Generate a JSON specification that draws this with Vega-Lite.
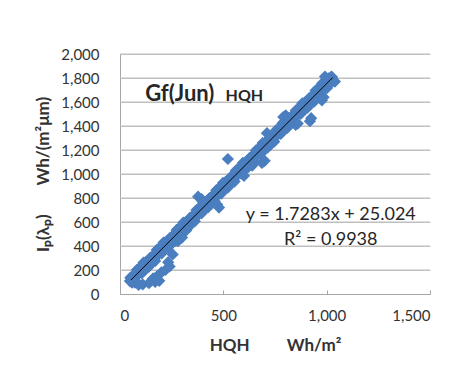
{
  "$schema": "https://vega.github.io/schema/vega-lite/v6.json",
  "autosize": {"type": "none"},
  "width": 310,
  "height": 240,
  "padding": {"left": 120, "top": 54, "right": 37, "bottom": 84},
  "background": "white",
  "config": {
    "font": "Lato",
    "view": {"stroke": null},
    "axis": {"labelFont": "Lato", "titleFont": "Lato", "labelColor": "#333333", "titleColor": "#333333", "domainColor": "#a6a6a6", "tickColor": "#a6a6a6", "gridColor": "#bfbfbf", "labelOverlap": false}
  },
  "datasets": {
    "pts": [
      {"x": 50, "y": 136}, {"x": 58, "y": 95}, {"x": 66, "y": 149}, {"x": 74, "y": 108}, {"x": 82, "y": 202}, {"x": 90, "y": 166},
      {"x": 98, "y": 199}, {"x": 106, "y": 173}, {"x": 114, "y": 262}, {"x": 122, "y": 216}, {"x": 130, "y": 265}, {"x": 138, "y": 224},
      {"x": 146, "y": 302}, {"x": 154, "y": 261}, {"x": 162, "y": 315}, {"x": 170, "y": 274}, {"x": 178, "y": 368}, {"x": 186, "y": 331},
      {"x": 194, "y": 365}, {"x": 202, "y": 339}, {"x": 210, "y": 428}, {"x": 218, "y": 382}, {"x": 226, "y": 431}, {"x": 234, "y": 389},
      {"x": 242, "y": 468}, {"x": 250, "y": 427}, {"x": 258, "y": 481}, {"x": 266, "y": 440}, {"x": 274, "y": 534}, {"x": 282, "y": 497},
      {"x": 290, "y": 531}, {"x": 298, "y": 505}, {"x": 306, "y": 594}, {"x": 314, "y": 548}, {"x": 322, "y": 597}, {"x": 330, "y": 555},
      {"x": 338, "y": 634}, {"x": 346, "y": 593}, {"x": 354, "y": 647}, {"x": 362, "y": 606}, {"x": 370, "y": 699}, {"x": 378, "y": 663},
      {"x": 386, "y": 697}, {"x": 394, "y": 671}, {"x": 402, "y": 760}, {"x": 410, "y": 714}, {"x": 418, "y": 762}, {"x": 426, "y": 721},
      {"x": 434, "y": 800}, {"x": 442, "y": 759}, {"x": 450, "y": 813}, {"x": 458, "y": 772}, {"x": 466, "y": 865}, {"x": 474, "y": 829},
      {"x": 482, "y": 863}, {"x": 490, "y": 837}, {"x": 498, "y": 926}, {"x": 506, "y": 880}, {"x": 514, "y": 928}, {"x": 522, "y": 887},
      {"x": 530, "y": 966}, {"x": 538, "y": 925}, {"x": 546, "y": 979}, {"x": 554, "y": 937}, {"x": 562, "y": 1031}, {"x": 570, "y": 995},
      {"x": 578, "y": 1029}, {"x": 586, "y": 1003}, {"x": 594, "y": 1092}, {"x": 602, "y": 1045}, {"x": 610, "y": 1094}, {"x": 618, "y": 1053},
      {"x": 626, "y": 1132}, {"x": 634, "y": 1091}, {"x": 642, "y": 1145}, {"x": 650, "y": 1103}, {"x": 658, "y": 1197}, {"x": 666, "y": 1161},
      {"x": 674, "y": 1195}, {"x": 682, "y": 1169}, {"x": 690, "y": 1258}, {"x": 698, "y": 1211}, {"x": 706, "y": 1260}, {"x": 714, "y": 1219},
      {"x": 722, "y": 1298}, {"x": 730, "y": 1257}, {"x": 738, "y": 1310}, {"x": 746, "y": 1269}, {"x": 754, "y": 1363}, {"x": 762, "y": 1327},
      {"x": 770, "y": 1361}, {"x": 778, "y": 1335}, {"x": 786, "y": 1423}, {"x": 794, "y": 1377}, {"x": 802, "y": 1426}, {"x": 810, "y": 1385},
      {"x": 818, "y": 1464}, {"x": 826, "y": 1423}, {"x": 834, "y": 1476}, {"x": 842, "y": 1435}, {"x": 850, "y": 1529}, {"x": 858, "y": 1493},
      {"x": 866, "y": 1527}, {"x": 874, "y": 1501}, {"x": 882, "y": 1589}, {"x": 890, "y": 1543}, {"x": 898, "y": 1592}, {"x": 906, "y": 1551},
      {"x": 914, "y": 1630}, {"x": 922, "y": 1588}, {"x": 930, "y": 1642}, {"x": 938, "y": 1601}, {"x": 946, "y": 1695}, {"x": 954, "y": 1659},
      {"x": 962, "y": 1693}, {"x": 970, "y": 1666}, {"x": 978, "y": 1755}, {"x": 986, "y": 1709}, {"x": 994, "y": 1758}, {"x": 1002, "y": 1717},
      {"x": 1010, "y": 1796}, {"x": 1018, "y": 1754}, {"x": 1026, "y": 1808},
      {"x": 54, "y": 108}, {"x": 62, "y": 152}, {"x": 70, "y": 121}, {"x": 78, "y": 175}, {"x": 86, "y": 169}, {"x": 94, "y": 218},
      {"x": 102, "y": 181}, {"x": 110, "y": 225}, {"x": 118, "y": 199}, {"x": 126, "y": 268}, {"x": 134, "y": 242}, {"x": 142, "y": 276},
      {"x": 150, "y": 274}, {"x": 158, "y": 318}, {"x": 166, "y": 287}, {"x": 174, "y": 341}, {"x": 182, "y": 335}, {"x": 190, "y": 383},
      {"x": 198, "y": 347}, {"x": 206, "y": 391}, {"x": 214, "y": 365}, {"x": 222, "y": 434}, {"x": 230, "y": 408}, {"x": 238, "y": 441},
      {"x": 246, "y": 440}, {"x": 254, "y": 484}, {"x": 262, "y": 453}, {"x": 270, "y": 507}, {"x": 278, "y": 501}, {"x": 286, "y": 549},
      {"x": 294, "y": 513}, {"x": 302, "y": 557}, {"x": 310, "y": 531}, {"x": 318, "y": 600}, {"x": 326, "y": 574}, {"x": 334, "y": 607},
      {"x": 342, "y": 606}, {"x": 350, "y": 650}, {"x": 358, "y": 619}, {"x": 366, "y": 673}, {"x": 374, "y": 666}, {"x": 382, "y": 715},
      {"x": 390, "y": 679}, {"x": 398, "y": 723}, {"x": 406, "y": 697}, {"x": 414, "y": 766}, {"x": 422, "y": 739}, {"x": 430, "y": 773},
      {"x": 438, "y": 772}, {"x": 446, "y": 816}, {"x": 454, "y": 785}, {"x": 462, "y": 839}, {"x": 470, "y": 832}, {"x": 478, "y": 881},
      {"x": 486, "y": 845}, {"x": 494, "y": 889}, {"x": 502, "y": 863}, {"x": 510, "y": 932}, {"x": 518, "y": 905}, {"x": 526, "y": 939},
      {"x": 534, "y": 938}, {"x": 542, "y": 982}, {"x": 550, "y": 951}, {"x": 558, "y": 1004}, {"x": 566, "y": 998}, {"x": 574, "y": 1047},
      {"x": 582, "y": 1011}, {"x": 590, "y": 1055}, {"x": 598, "y": 1029}, {"x": 606, "y": 1097}, {"x": 614, "y": 1071}, {"x": 622, "y": 1105},
      {"x": 630, "y": 1104}, {"x": 638, "y": 1148}, {"x": 646, "y": 1117}, {"x": 654, "y": 1170}, {"x": 662, "y": 1164}, {"x": 670, "y": 1213},
      {"x": 678, "y": 1177}, {"x": 686, "y": 1221}, {"x": 694, "y": 1195}, {"x": 702, "y": 1263}, {"x": 710, "y": 1237}, {"x": 718, "y": 1271},
      {"x": 726, "y": 1270}, {"x": 734, "y": 1314}, {"x": 742, "y": 1282}, {"x": 750, "y": 1336}, {"x": 758, "y": 1330}, {"x": 766, "y": 1379},
      {"x": 774, "y": 1343}, {"x": 782, "y": 1387}, {"x": 790, "y": 1360}, {"x": 798, "y": 1429}, {"x": 806, "y": 1403}, {"x": 814, "y": 1437},
      {"x": 822, "y": 1436}, {"x": 830, "y": 1480}, {"x": 838, "y": 1448}, {"x": 846, "y": 1502}, {"x": 854, "y": 1496}, {"x": 862, "y": 1545},
      {"x": 870, "y": 1509}, {"x": 878, "y": 1553}, {"x": 886, "y": 1526}, {"x": 894, "y": 1595}, {"x": 902, "y": 1569}, {"x": 910, "y": 1603},
      {"x": 918, "y": 1602}, {"x": 926, "y": 1645}, {"x": 934, "y": 1614}, {"x": 942, "y": 1668}, {"x": 950, "y": 1662}, {"x": 958, "y": 1711},
      {"x": 966, "y": 1675}, {"x": 974, "y": 1718}, {"x": 982, "y": 1692}, {"x": 990, "y": 1761}, {"x": 998, "y": 1735}, {"x": 1006, "y": 1769},
      {"x": 1014, "y": 1768}, {"x": 1022, "y": 1811},
      {"x": 48, "y": 108}, {"x": 60, "y": 100}, {"x": 72, "y": 95}, {"x": 90, "y": 75}, {"x": 110, "y": 80}, {"x": 140, "y": 90},
      {"x": 160, "y": 130}, {"x": 170, "y": 100}, {"x": 180, "y": 150}, {"x": 190, "y": 110}, {"x": 200, "y": 180}, {"x": 220, "y": 200},
      {"x": 233, "y": 265}, {"x": 240, "y": 230}, {"x": 255, "y": 330}, {"x": 280, "y": 440}, {"x": 300, "y": 470}, {"x": 320, "y": 530},
      {"x": 378, "y": 811}, {"x": 395, "y": 790}, {"x": 430, "y": 790}, {"x": 470, "y": 745}, {"x": 479, "y": 720}, {"x": 522, "y": 1125},
      {"x": 560, "y": 1020}, {"x": 600, "y": 985}, {"x": 640, "y": 1070}, {"x": 687, "y": 1092}, {"x": 700, "y": 1110}, {"x": 711, "y": 1340},
      {"x": 726, "y": 1241}, {"x": 790, "y": 1475}, {"x": 802, "y": 1489}, {"x": 850, "y": 1410}, {"x": 860, "y": 1420}, {"x": 919, "y": 1440},
      {"x": 925, "y": 1465}, {"x": 977, "y": 1614}, {"x": 985, "y": 1640}, {"x": 992, "y": 1812}, {"x": 1031, "y": 1779}, {"x": 1040, "y": 1770}
    ],
    "trend": [{"x": 53, "y": 116.6}, {"x": 1029, "y": 1803.4}],
    "gridrows": [{"y": 200}, {"y": 400}, {"y": 600}, {"y": 800}, {"y": 1000}, {"y": 1200}, {"y": 1400}, {"y": 1600}, {"y": 1800}, {"y": 2000}],
    "lab1": [{"x": 122, "y": 1605, "t": "Gf(Jun)"}],
    "lab2": [{"x": 511, "y": 1605, "t": "HQH"}],
    "lab3": [{"x": 1020, "y": 618, "t": "y = 1.7283x + 25.024"}, {"x": 1020, "y": 410, "t": "R² = 0.9938"}]
  },
  "encoding": {
    "y": {"field": "y", "type": "quantitative", "scale": {"domain": [0, 2000], "nice": false},
      "axis": {"values": [0, 200, 400, 600, 800, 1000, 1200, 1400, 1600, 1800, 2000], "format": ",d", "grid": true, "gridColor": "#bfbfbf", "ticks": false, "labelFontSize": 15, "labelPadding": 21, "labelOverlap": false,
        "title": "Iₚ(λₚ)\u00a0\u00a0\u00a0\u00a0\u00a0\u00a0\u00a0Wh/(m²μm)", "titleFontSize": 17, "titleFontWeight": "bold", "titlePadding": 8}}
  },
  "layer": [
    {
      "data": {"name": "gridrows"},
      "mark": {"type": "rule", "color": "#bfbfbf", "strokeWidth": 1}
    },
    {
      "data": {"name": "pts"},
      "mark": {"type": "point", "shape": "diamond", "filled": true, "size": 150, "opacity": 1, "color": "#4a7ebf"},
      "encoding": {
        "x": {"field": "x", "type": "quantitative", "scale": {"domain": [0, 1500], "nice": false},
          "axis": {"values": [0, 500, 1000, 1500], "format": ",d", "grid": false, "tickSize": -4, "labelFontSize": 15, "labelPadding": 18, "labelOverlap": false,
            "title": "HQH\u00a0\u00a0\u00a0\u00a0\u00a0\u00a0\u00a0\u00a0\u00a0Wh/m²", "titleFontSize": 17, "titleFontWeight": "bold", "titlePadding": 14}}
      }
    },
    {
      "data": {"name": "trend"},
      "mark": {"type": "line", "color": "black", "strokeWidth": 1},
      "encoding": {
        "x": {"field": "x", "type": "quantitative", "scale": {"domain": [0, 1500], "nice": false},
          "axis": {"values": [0, 500, 1000, 1500], "format": ",d", "grid": false, "tickSize": -4, "labelFontSize": 15, "labelPadding": 18, "labelOverlap": false,
            "title": "HQH\u00a0\u00a0\u00a0\u00a0\u00a0\u00a0\u00a0\u00a0\u00a0Wh/m²", "titleFontSize": 17, "titleFontWeight": "bold", "titlePadding": 14}}
      }
    },
    {
      "data": {"name": "lab1"},
      "mark": {"type": "text", "font": "Lato", "fontWeight": "bold", "fontSize": 22, "align": "left", "baseline": "alphabetic", "color": "#262626"},
      "encoding": {
        "x": {"field": "x", "type": "quantitative", "scale": {"domain": [0, 1500], "nice": false},
          "axis": {"values": [0, 500, 1000, 1500], "format": ",d", "grid": false, "tickSize": -4, "labelFontSize": 15, "labelPadding": 18, "labelOverlap": false,
            "title": "HQH\u00a0\u00a0\u00a0\u00a0\u00a0\u00a0\u00a0\u00a0\u00a0Wh/m²", "titleFontSize": 17, "titleFontWeight": "bold", "titlePadding": 14}},
        "text": {"field": "t"}
      }
    },
    {
      "data": {"name": "lab2"},
      "mark": {"type": "text", "font": "Lato", "fontWeight": "bold", "fontSize": 16, "align": "left", "baseline": "alphabetic", "color": "#262626"},
      "encoding": {
        "x": {"field": "x", "type": "quantitative", "scale": {"domain": [0, 1500], "nice": false},
          "axis": {"values": [0, 500, 1000, 1500], "format": ",d", "grid": false, "tickSize": -4, "labelFontSize": 15, "labelPadding": 18, "labelOverlap": false,
            "title": "HQH\u00a0\u00a0\u00a0\u00a0\u00a0\u00a0\u00a0\u00a0\u00a0Wh/m²", "titleFontSize": 17, "titleFontWeight": "bold", "titlePadding": 14}},
        "text": {"field": "t"}
      }
    },
    {
      "data": {"name": "lab3"},
      "mark": {"type": "text", "font": "Lato", "fontSize": 18, "align": "center", "baseline": "alphabetic", "color": "#262626"},
      "encoding": {
        "x": {"field": "x", "type": "quantitative", "scale": {"domain": [0, 1500], "nice": false},
          "axis": {"values": [0, 500, 1000, 1500], "format": ",d", "grid": false, "tickSize": -4, "labelFontSize": 15, "labelPadding": 18, "labelOverlap": false,
            "title": "HQH\u00a0\u00a0\u00a0\u00a0\u00a0\u00a0\u00a0\u00a0\u00a0Wh/m²", "titleFontSize": 17, "titleFontWeight": "bold", "titlePadding": 14}},
        "text": {"field": "t"}
      }
    }
  ]
}
